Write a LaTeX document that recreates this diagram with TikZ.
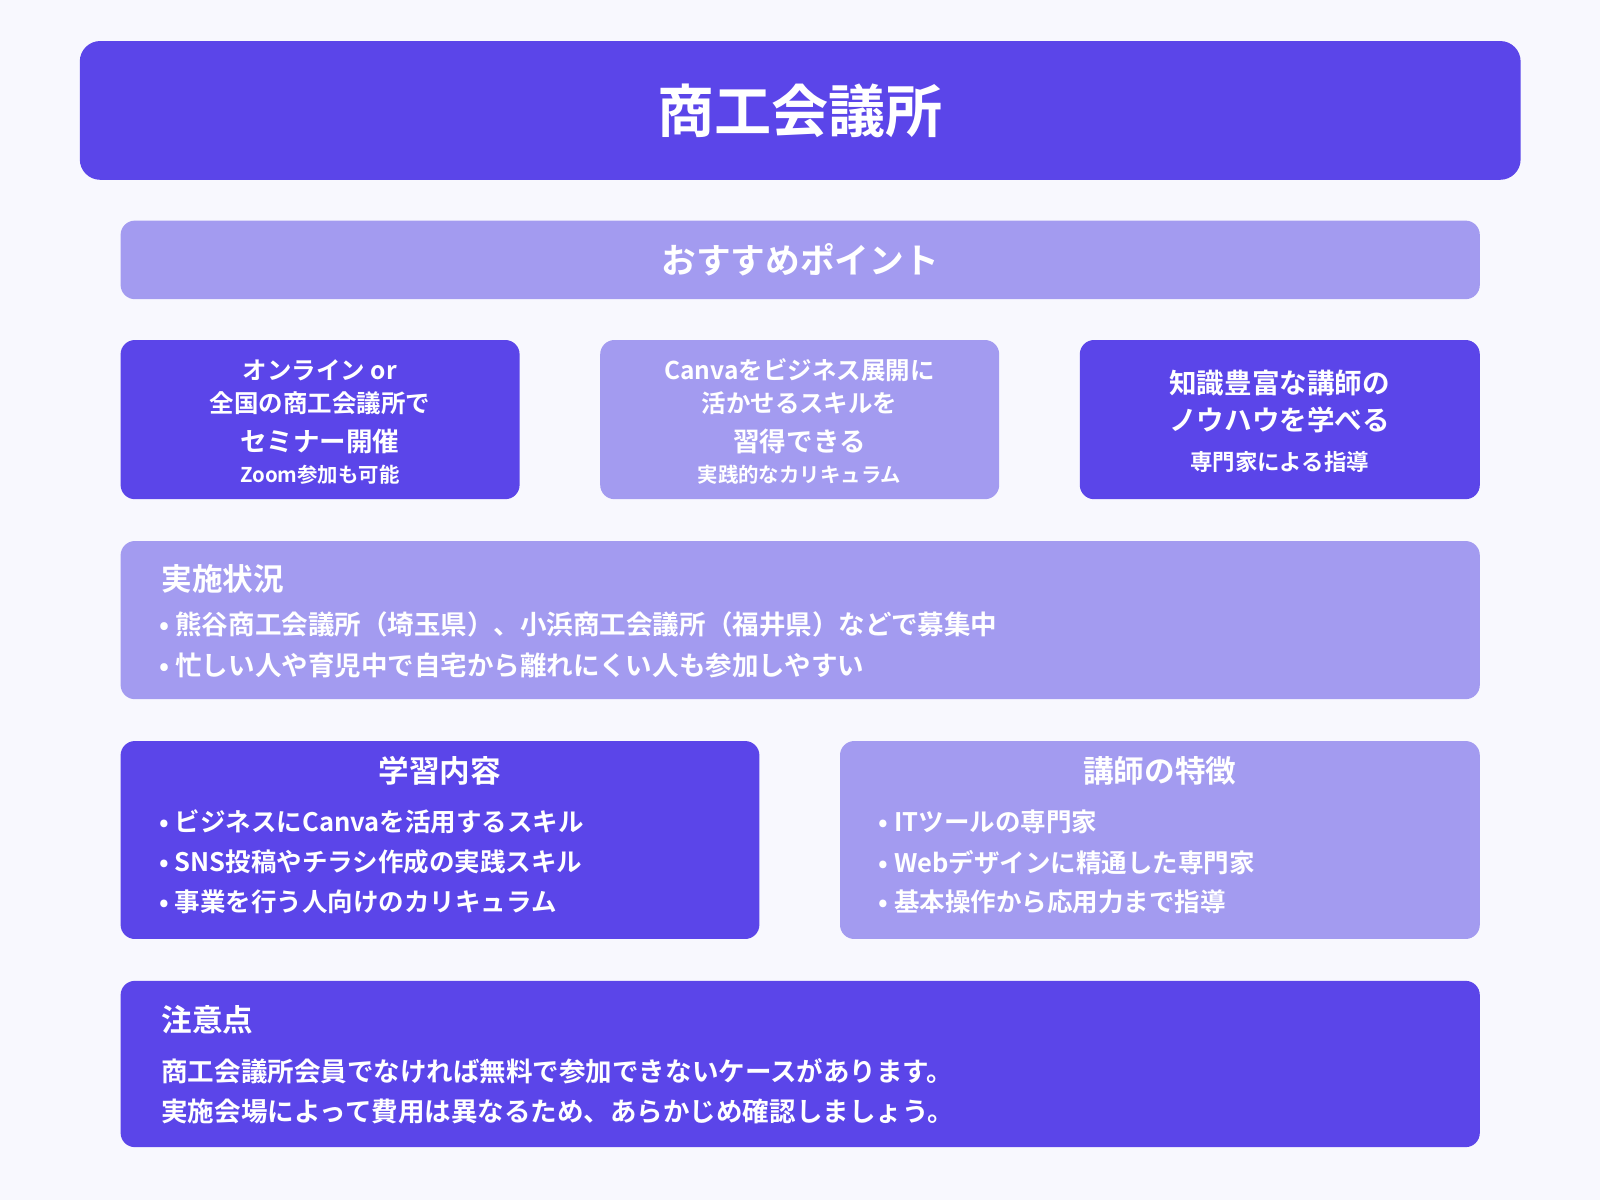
\documentclass[tikz,border=0pt]{standalone}
\usepackage{fontspec}
\setmainfont{Noto Sans CJK JP}[BoldFont={Noto Sans CJK JP Bold}]
\usetikzlibrary{positioning}
\definecolor{darkv}{HTML}{5B45E9}
\definecolor{lightv}{HTML}{A39BF0}
\definecolor{bgv}{HTML}{F8F8FE}
\tikzset{
  panel/.style={rounded corners=14pt, inner sep=0pt, anchor=north west},
  darkpanel/.style={panel, fill=darkv},
  lightpanel/.style={panel, fill=lightv},
  txt/.style={text=white, font=\bfseries, inner sep=0pt},
  line/.style={txt, anchor=west}
}
\newcommand{\fs}[1]{\fontsize{#1}{#1}\selectfont}
\begin{document}
\begin{tikzpicture}[x=1pt,y=-1pt]
\fill[bgv] (0,0) rectangle (1568,1176);
\useasboundingbox (0,0) rectangle (1568,1176);
% title
\node[darkpanel, rounded corners=20pt, minimum width=1412pt, minimum height=136pt] (title) at (78,40) {};
\node[txt, font=\bfseries\fs{56}] at (title.center) {商工会議所};
% points
\node[lightpanel, minimum width=1332pt, minimum height=77pt] (points) at (118,216) {};
\node[txt, font=\bfseries\fs{34}] at (points.center) {おすすめポイント};
\node[darkpanel, minimum width=391pt, minimum height=156pt] (p1) at (118,333) {};
\node[lightpanel, minimum width=391pt, minimum height=156pt] (p2) at (588,333) {};
\node[darkpanel, minimum width=392pt, minimum height=156pt] (p3) at (1058,333) {};
\node[txt, font=\bfseries\fs{24}] at (313.5,363) {オンライン or};
\node[txt, font=\bfseries\fs{24}] at (313.5,395) {全国の商工会議所で};
\node[txt, font=\bfseries\fs{26}] at (313.5,433) {セミナー開催};
\node[txt, font=\bfseries\fs{20}] at (313.5,465) {Zoom参加も可能};
\node[txt, font=\bfseries\fs{24}] at (783.5,363) {Canvaをビジネス展開に};
\node[txt, font=\bfseries\fs{24}] at (783.5,395) {活かせるスキルを};
\node[txt, font=\bfseries\fs{26}] at (783.5,433) {習得できる};
\node[txt, font=\bfseries\fs{20}] at (783.5,465) {実践的なカリキュラム};
\node[txt, font=\bfseries\fs{27}] at (1254,375) {知識豊富な講師の};
\node[txt, font=\bfseries\fs{27}] at (1254,412) {ノウハウを学べる};
\node[txt, font=\bfseries\fs{22}] at (1254,453) {専門家による指導};
% status
\node[lightpanel, minimum width=1332pt, minimum height=155pt] (status) at (118,530) {};
\node[line, font=\bfseries\fs{30}] at (158,567) {実施状況};
\node[line, font=\bfseries\fs{26}] at (156,612) {• 熊谷商工会議所（埼玉県）、小浜商工会議所（福井県）などで募集中};
\node[line, font=\bfseries\fs{26}] at (156,652) {• 忙しい人や育児中で自宅から離れにくい人も参加しやすい};
% content / teacher
\node[darkpanel, minimum width=626pt, minimum height=194pt] (content) at (118,726) {};
\node[txt, font=\bfseries\fs{30}] at (431,755) {学習内容};
\node[line, font=\bfseries\fs{25}] at (156,805) {• ビジネスにCanvaを活用するスキル};
\node[line, font=\bfseries\fs{25}] at (156,845) {• SNS投稿やチラシ作成の実践スキル};
\node[line, font=\bfseries\fs{25}] at (156,884) {• 事業を行う人向けのカリキュラム};
\node[lightpanel, minimum width=627pt, minimum height=194pt] (teacher) at (823,726) {};
\node[txt, font=\bfseries\fs{30}] at (1136.5,755) {講師の特徴};
\node[line, font=\bfseries\fs{25}] at (861,805) {• ITツールの専門家};
\node[line, font=\bfseries\fs{25}] at (861,845) {• Webデザインに精通した専門家};
\node[line, font=\bfseries\fs{25}] at (861,884) {• 基本操作から応用力まで指導};
% caution
\node[darkpanel, minimum width=1332pt, minimum height=163pt] (caution) at (118,961) {};
\node[line, font=\bfseries\fs{30}] at (158,999) {注意点};
\node[line, font=\bfseries\fs{26}] at (158,1050) {商工会議所会員でなければ無料で参加できないケースがあります。};
\node[line, font=\bfseries\fs{26}] at (158,1089) {実施会場によって費用は異なるため、あらかじめ確認しましょう。};
\end{tikzpicture}
\end{document}
